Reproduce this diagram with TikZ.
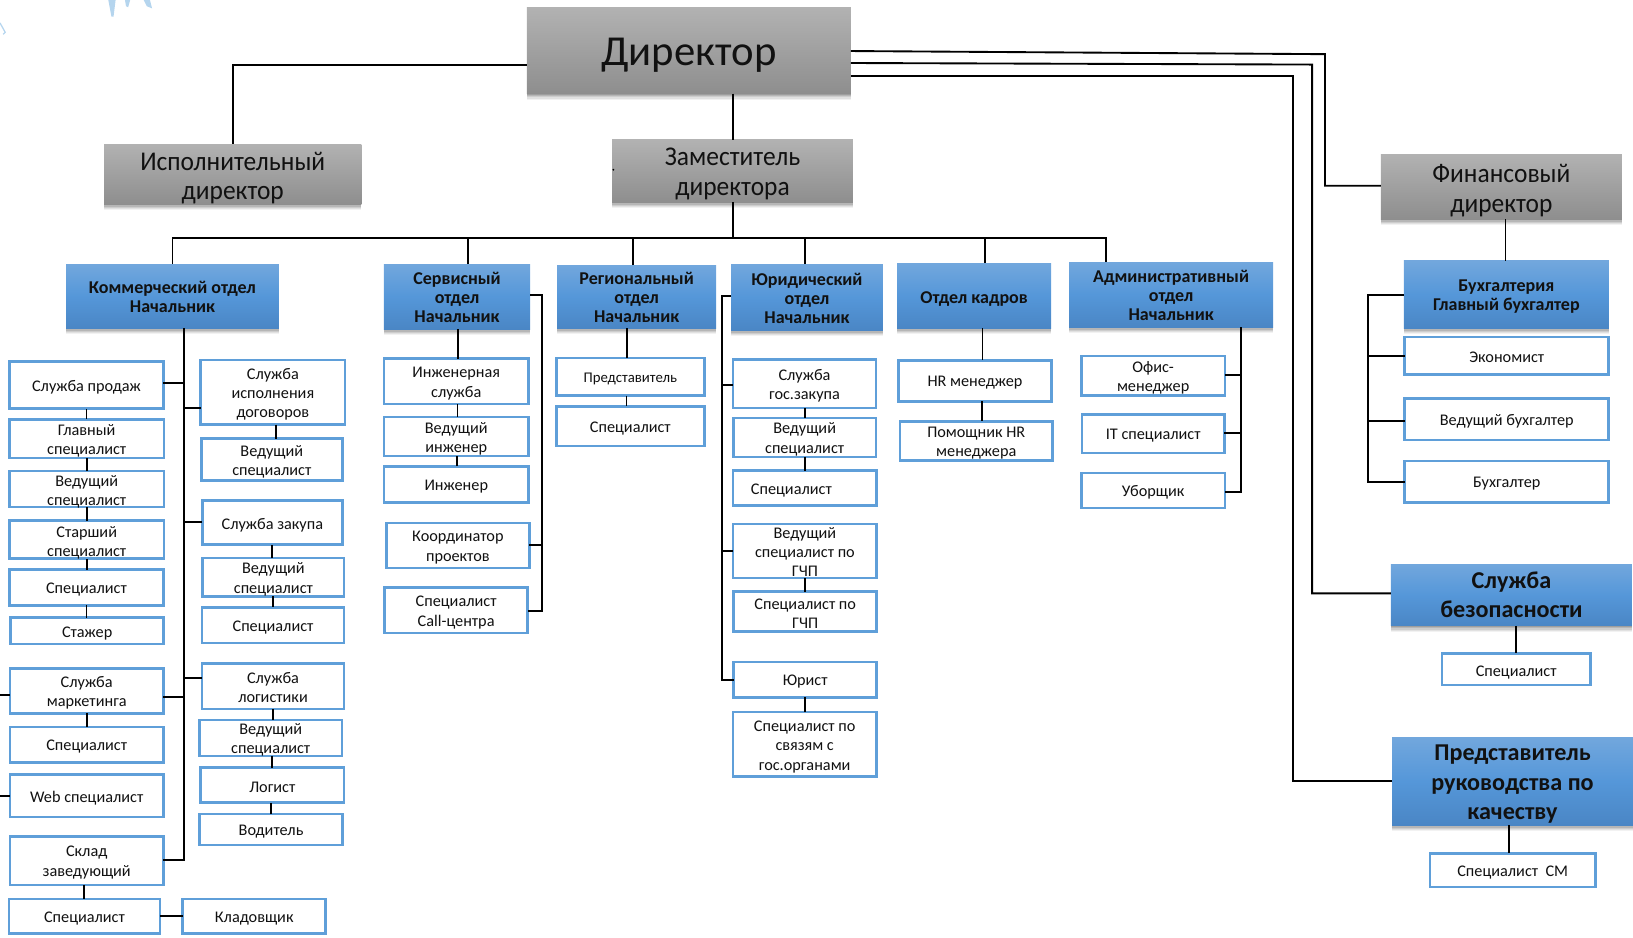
\documentclass[tikz,border=0pt]{standalone}
\usepackage{fontspec}
\setmainfont{Carlito}
\usetikzlibrary{shadows}
\definecolor{bord}{HTML}{5F9FD9}
\definecolor{ink}{HTML}{111111}
\definecolor{speck}{HTML}{B5D5EE}
\definecolor{btop}{HTML}{72A7DD}
\definecolor{bmid}{HTML}{5597D9}
\definecolor{bbot}{HTML}{4A86C5}
\definecolor{gtop}{HTML}{B2B2B2}
\definecolor{gbot}{HTML}{8E8E8E}
\tikzset{
  wbox/.style={draw=bord,line width=1.25pt,fill=white,inner sep=0pt,outer sep=0pt},
  softshadow/.style={
    drop shadow={shadow xshift=0pt,shadow yshift=-3pt,opacity=.05,fill=black},
    drop shadow={shadow xshift=0pt,shadow yshift=-2.4pt,opacity=.07,fill=black},
    drop shadow={shadow xshift=0pt,shadow yshift=-1.8pt,opacity=.09,fill=black},
    drop shadow={shadow xshift=0pt,shadow yshift=-1.2pt,opacity=.11,fill=black},
    drop shadow={shadow xshift=0pt,shadow yshift=-.6pt,opacity=.13,fill=black}},
  bluebox/.style={top color=btop,bottom color=bbot,middle color=bmid,inner sep=0pt,outer sep=0pt,softshadow},
  graybox/.style={top color=gtop,bottom color=gbot,inner sep=0pt,outer sep=0pt,softshadow},
  wtxt/.style={text=ink,align=center,inner sep=0pt,yshift=-1pt,font=\fontsize{7.8}{9.3}\selectfont},
  wtxts/.style={text=ink,align=center,inner sep=0pt,yshift=-1pt,font=\fontsize{7.1}{9}\selectfont},
  btxt/.style={text=ink,align=center,inner sep=0pt,yshift=-.5pt,font=\bfseries\fontsize{8.65}{9.1}\selectfont},
  btxtl/.style={text=ink,align=center,inner sep=0pt,font=\bfseries\fontsize{11.6}{14}\selectfont},
  gtxt/.style={text=ink,align=center,inner sep=0pt,xscale=.94,font=\fontsize{13}{14.2}\selectfont},
  gtxtb/.style={text=ink,align=center,inner sep=0pt,font=\fontsize{20.5}{22}\selectfont},
  conn/.style={draw=black,line width=.9pt,line join=miter},
}
% inset, box style, text style, name, x0,y0,x1,y1 then (via \mkb) text and offset
\newcommand{\mk}[8]{\def\mkins{#1}\def\mkbs{#2}\def\mkts{#3}\def\mkn{#4}\def\mka{#5}\def\mkc{#6}\def\mkd{#7}\def\mke{#8}\mkb}
\newcommand{\mkb}[2]{%
  \node[\mkbs,minimum width={(\mkd-\mka-\mkins)*.5pt},minimum height={(\mke-\mkc-\mkins)*.5pt},
        label={[\mkts,name=\mkn-t,shift={(#2)}]center:{#1}}]
       (\mkn) at ({(\mka+\mkd)/2},{(\mkc+\mke)/2}) {};}
\newcommand{\wb}{\mk{2.4}{wbox}{wtxt}}
\newcommand{\wbs}{\mk{2.4}{wbox}{wtxts}}
\newcommand{\bb}{\mk{0}{bluebox}{btxt}}
\newcommand{\bbl}{\mk{0}{bluebox}{btxtl}}
\newcommand{\gb}{\mk{0}{graybox}{gtxt}}
\newcommand{\gbb}{\mk{0}{graybox}{gtxtb}}
\newcommand{\vc}[2]{\draw[conn] (#1.south) -- (#1.south |- #2.north);}
\newcommand{\vx}[3]{\draw[conn] (#1.south -| #3,0) -- (#2.north -| #3,0);}
\begin{document}
\begin{tikzpicture}[x=.5pt,y=-.5pt]
\useasboundingbox (0,0) rectangle (1568,900);
% stray specks in the corner
\fill[speck] (104,0) -- (111,0) -- (109,16) -- (107,16) -- cycle;
\fill[speck] (120,0) -- (125,0) -- (123,7) -- (121,6) -- cycle;
\fill[speck] (138,0) -- (144,0) -- (146,8) -- (141,6) -- cycle;
\draw[speck,line width=.6pt] (0,22) -- (5,31) -- (3,33);
% ---- top level
\gbb{dir}{506}{7}{817}{90}{Директор}{0,5}
\gb{exec}{100}{138.3}{347}{196}{Исполнительный\\директор}{0,4}
\gb{zam}{587.8}{134.4}{819}{194}{Заместитель\\директора}{0,3}
\gb{fin}{1325.9}{147.9}{1557.4}{210.3}{Финансовый\\директор}{0,4}
\fill[black] (589,163) circle (.5pt);
% ---- departments
\bb{kom}{63.4}{253.5}{267.8}{315}{Коммерческий отдел\\Начальник}{0,0}
\bb{ser}{368.7}{253.5}{509}{316}{Сервисный\\отдел\\Начальник}{0,0}
\bb{reg}{535}{254.5}{687.6}{315}{Региональный\\отдел\\Начальник}{0,0}
\bb{yur}{702}{253.5}{847.7}{317}{Юридический\\отдел\\Начальник}{0,0}
\bb{kad}{861.4}{252.6}{1009.2}{315}{Отдел кадров}{0,2}
\bb{adm}{1026.6}{251.6}{1222.4}{314}{Административный\\отдел\\Начальник}{0,0}
\bb{buh}{1348}{250.6}{1544.8}{315}{Бухгалтерия\\Главный бухгалтер}{0,1}
\bbl{sec}{1335.6}{541.6}{1567}{601}{Служба\\безопасности}{0,0}
\bbl{prq}{1336.6}{707.7}{1568}{792.2}{Представитель\\руководства по\\качеству}{0,3}
% ---- commercial, column 1
\wb{prod}{8}{345.7}{158}{393.7}{Служба продаж}{0,0}
\wb{glav}{8}{401.5}{158.5}{441}{Главный\\специалист}{0,0}
\wb{ved}{8}{451}{158.5}{488}{Ведущий\\специалист}{0,.5}
\wb{star}{8}{498.7}{158.5}{537.7}{Старший\\специалист}{0,1}
\wb{spec}{8}{545.7}{158}{582.5}{Специалист}{0,0}
\wb{staj}{9}{592}{158.4}{619.4}{Стажер}{0,1}
\wb{mark}{8.5}{640.8}{158}{686}{Служба\\маркетинга}{0,0}
\wb{specm}{8.5}{696.8}{158}{733.3}{Специалист}{0,0}
\wb{web}{8.5}{742.6}{158}{785.8}{Web специалист}{0,0}
\wb{skl}{8.5}{801.8}{158}{850.8}{Склад\\заведующий}{0,0}
\wb{specs}{7.5}{862}{154.7}{897.8}{Специалист}{0,0}
\wb{klad}{174.2}{862}{314}{897.8}{Кладовщик}{0,0}
% ---- commercial, column 2
\wb{isp}{191.4}{344.4}{332.6}{409}{Служба\\исполнения\\договоров}{0,0}
\wb{vedi}{192}{420}{330}{462.5}{Ведущий\\специалист}{0,0}
\wb{zak}{193}{479.5}{330}{524.3}{Служба закупа}{0,0}
\wb{vedz}{193.4}{534.5}{331.6}{573.9}{Ведущий\\специалист}{0,0}
\wb{specz}{192.7}{581.9}{331.6}{618.7}{Специалист}{0,0}
\wb{log}{192.7}{636}{331.6}{681.8}{Служба\\логистики}{0,-1}
\wb{vedl}{190.3}{690}{329.6}{727}{Ведущий\\специалист}{0,0}
\wb{logi}{191.4}{735.9}{331.6}{772}{Логист}{0,0}
\wb{vod}{190.3}{780.4}{330.2}{812.4}{Водитель}{0,0}
% ---- service
\wb{inz}{367.6}{343.2}{508.6}{389.2}{Инженерная\\служба}{0,0}
\wb{vinz}{367.6}{399.2}{508.6}{439.2}{Ведущий\\инженер}{0,0}
\wb{inzh}{367.6}{446.5}{508.6}{483.6}{Инженер}{0,0}
\wb{koo}{369.7}{500.9}{509.6}{546.7}{Координатор\\проектов}{0,0}
\wb{call}{368}{563}{507.9}{609.1}{Специалист\\Call-центра}{0,0}
% ---- regional
\wbs{rep}{532.9}{342.5}{677.6}{381}{Представитель}{0,0}
\wb{rspec}{532.9}{389}{677.6}{429.6}{Специалист}{0,0}
% ---- legal
\wb{gos}{702.7}{344.1}{842.2}{392.8}{Служба\\гос.закупа}{0,0}
\wb{vgos}{703}{400}{842.2}{440}{Ведущий\\специалист}{0,0}
\wb{sgos}{702.7}{450.7}{843}{486.8}{Специалист}{-13,0}
\wb{vgch}{702.7}{501.9}{843}{556.3}{Ведущий\\специалист по\\ГЧП}{0,-1}
\wb{sgch}{703.3}{566.9}{843}{607.8}{Специалист по\\ГЧП}{0,0}
\wb{jur}{703.3}{634.4}{843}{670.9}{Юрист}{0,0}
\wb{sgor}{702.7}{682.4}{842.6}{746.8}{Специалист по\\связям с\\гос.органами}{0,.5}
% ---- HR
\wb{hr}{861.8}{344.7}{1010.6}{386.7}{HR менеджер}{0,0}
\wb{phr}{862.8}{403.3}{1012}{443.3}{Помощник HR\\менеджера}{0,0}
% ---- admin
\wb{ofi}{1037.1}{340.6}{1177.4}{381}{Офис-\\менеджер}{0,0}
\wb{it}{1037.8}{396.9}{1176.8}{436.3}{IT специалист}{0,0}
\wb{ubo}{1037.1}{453}{1177.4}{488.8}{Уборщик}{0,0}
% ---- accounting
\wb{eco}{1347.6}{322.3}{1545.9}{361}{Экономист}{0,-1}
\wb{vbu}{1347.6}{381.6}{1545.9}{423.5}{Ведущий бухгалтер}{0,0}
\wb{bug}{1347.6}{441.4}{1545.9}{483.4}{Бухгалтер}{0,0}
% ---- security, quality
\wb{ssp}{1383.3}{626}{1528.3}{659}{Специалист}{0,1}
\wb{scm}{1371.8}{818.1}{1533.1}{853}{Специалист\ \ СМ}{0,0}
% ======== connectors
\coordinate (bus) at (704,228.7);
\coordinate (ledgeM) at (0,667.4);
\coordinate (ledgeW) at (0,764);
\draw[conn] (dir.west |- 0,62) -| (exec.north);
\draw[conn] (dir.south -| 704,0) -- (zam.north -| 704,0);
\draw[conn] (zam.south -| 704,0) -- (bus);
\draw[conn] (kom.north) |- (bus);
\draw[conn] (bus) -| (adm.north -| 1061.7,0);
\draw[conn] (ser.north -| 449.2,0) -- (bus -| 449.2,0);
\draw[conn] (reg.north -| 608,0) -- (bus -| 608,0);
\draw[conn] (yur.north -| 772.6,0) -- (bus -| 772.6,0);
\draw[conn] (kad.north -| 945.5,0) -- (bus -| 945.5,0);
\draw[conn] (dir.east |- 0,49) -- (1272.2,52) |- (fin.west |- 0,178.3);
\draw[conn] (dir.east |- 0,60.5) -- (1259.9,62) |- (sec.west |- 0,569.7);
\draw[conn] (dir.east |- 0,73) -- (1241.7,73) |- (prq.west |- 0,750);
\vx{fin}{buh}{1445.5}
% accounting bracket
\draw[conn] (buh.west |- 0,283) -| (1313.2,462.5) -- (bug.west |- 0,462.5);
\draw[conn] (1313.2,341.9) -- (eco.west |- 0,341.9);
\draw[conn] (1313.2,404) -- (vbu.west |- 0,404);
% commercial trunk
\draw[conn] (kom.south -| 176.3,0) |- (skl.east |- 0,825.8);
\draw[conn] (prod.east |- 0,367.5) -- (176.3,367.5);
\draw[conn] (mark.east |- 0,669.6) -- (176.3,669.6);
\draw[conn] (176.3,391.8) -- (isp.west |- 0,391.8);
\draw[conn] (176.3,501.5) -- (zak.west |- 0,501.5);
\draw[conn] (176.3,651.4) -- (log.west |- 0,651.4);
\draw[conn] (ledgeM) -- (mark.west |- ledgeM);
\draw[conn] (ledgeW) -- (web.west |- ledgeW);
\vc{prod}{glav}\vc{glav}{ved}\vc{ved}{star}\vc{star}{spec}\vc{spec}{staj}
\vc{mark}{specm}
\vx{skl}{specs}{80.6}
\draw[conn] (specs.east |- 0,879.6) -- (klad.west |- 0,879.6);
\vx{isp}{vedi}{265}
\vc{zak}{vedz}\vc{vedz}{specz}
\vc{log}{vedl}\vx{vedl}{logi}{261.5}\vx{logi}{vod}{260.5}
% service
\vx{ser}{inz}{440}\vx{inz}{vinz}{439.3}\vx{vinz}{inzh}{438.6}
\draw[conn] (ser.east |- 0,283.3) -| (520.6,586.7) -- (call.east |- 0,586.7);
\draw[conn] (koo.east |- 0,523.6) -- (520.6,523.6);
% regional
\vx{reg}{rep}{602.2}\vx{rep}{rspec}{601.5}
% legal
\draw[conn] (yur.west |- 0,284) -| (693,653) -- (jur.west |- 0,653);
\draw[conn] (693,369.4) -- (gos.west |- 0,369.4);
\draw[conn] (693,529.1) -- (vgch.west |- 0,529.1);
\vx{gos}{vgos}{772.6}\vx{vgos}{sgos}{772.6}\vx{vgch}{sgch}{772.6}\vx{jur}{sgor}{772.6}
% HR
\vx{kad}{hr}{943.4}\vx{hr}{phr}{942.7}
% admin
\draw[conn] (adm.south -| 1191.5,0) |- (ubo.east |- 0,472);
\draw[conn] (ofi.east |- 0,360.4) -- (1191.5,360.4);
\draw[conn] (it.east |- 0,415.5) -- (1191.5,415.5);
% security, quality
\vx{sec}{ssp}{1456}\vx{prq}{scm}{1449.3}
\end{tikzpicture}
\end{document}
